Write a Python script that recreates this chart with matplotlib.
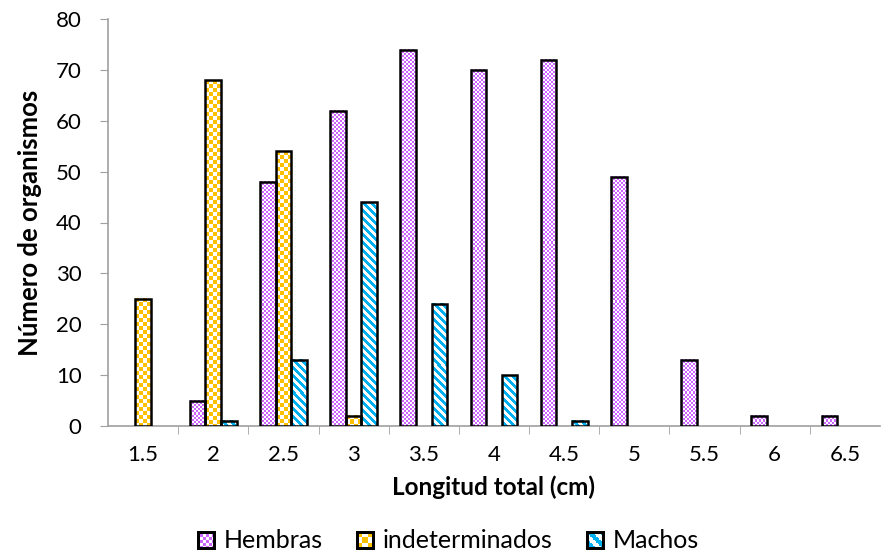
import numpy as np
import matplotlib
matplotlib.use("Agg")
import matplotlib.pyplot as plt
from matplotlib.offsetbox import HPacker, TextArea, AnnotationBbox, OffsetImage

# Length classes (cm) and counts per sex
categories = ["1.5", "2", "2.5", "3", "3.5", "4", "4.5", "5", "5.5", "6", "6.5"]
hembras = [0, 5, 48, 62, 74, 70, 72, 49, 13, 2, 2]
indeterminados = [25, 68, 54, 2, 0, 0, 0, 0, 0, 0, 0]
machos = [0, 1, 13, 44, 24, 10, 1, 0, 0, 0, 0]

series_names = ["Hembras", "indeterminados", "Machos"]
series_vals = [hembras, indeterminados, machos]

PURPLE = np.array([0xCC, 0x66, 0xFF]) / 255
ORANGE = np.array([0xFF, 0xC0, 0x00]) / 255
CYAN = np.array([0x00, 0xB0, 0xF0]) / 255
WHITE = np.array([1.0, 1.0, 1.0])


def pattern(kind, w, h):
    yy, xx = np.mgrid[0:h, 0:w]
    if kind == 0:      # fine checkerboard
        m = ((xx // 2 + yy // 2) % 2) == 0
        col = PURPLE
    elif kind == 1:    # coarse checkerboard
        m = ((xx // 4 + yy // 4) % 2) == 0
        col = ORANGE
    else:              # diagonal stripes
        m = ((xx - yy) % 8) < 4
        col = CYAN
    return np.where(m[..., None], col[None, None, :], WHITE[None, None, :])


plt.rcParams["font.family"] = ["Lato", "DejaVu Sans"]

fig = plt.figure(figsize=(8.87, 5.57), dpi=100)
ax = fig.add_axes([108 / 887, 131 / 557, 772 / 887, 407 / 557])

n = len(categories)
x = np.arange(n)
bw = 1 / 4.5
offsets = [-bw, 0, bw]

ax.set_xlim(-0.5, n - 0.5)
ax.set_ylim(0, 80)

for k, (vals, off) in enumerate(zip(series_vals, offsets)):
    edges = ["black" if v > 0 else "none" for v in vals]
    bars = ax.bar(x + off, vals, width=bw, facecolor="none",
                  edgecolor=edges, linewidth=1.8, zorder=3,
                  label=series_names[k])
    for rect, v in zip(bars, vals):
        if v <= 0:
            continue
        x0, y0 = rect.get_x(), rect.get_y()
        x1, y1 = x0 + rect.get_width(), y0 + rect.get_height()
        p0 = ax.transData.transform((x0, y0))
        p1 = ax.transData.transform((x1, y1))
        wpx = max(1, int(round(p1[0] - p0[0])))
        hpx = max(1, int(round(p1[1] - p0[1])))
        ax.imshow(pattern(k, wpx, hpx), extent=(x0, x1, y0, y1),
                  origin="upper", interpolation="nearest", aspect="auto",
                  zorder=2)

ax.set_xlim(-0.5, n - 0.5)
ax.set_ylim(0, 80)

# Axis styling
for s in ["top", "right"]:
    ax.spines[s].set_visible(False)
for s in ["left", "bottom"]:
    ax.spines[s].set_color("#A0A0A0")
    ax.spines[s].set_linewidth(1.2)
ax.spines["bottom"].set_zorder(1)

ax.set_yticks(np.arange(0, 81, 10))
ax.tick_params(axis="y", direction="out", length=6, color="#A0A0A0",
               labelsize=16, pad=13)
ax.set_xticks(x)
ax.set_xticklabels(categories)
ax.tick_params(axis="x", length=0, labelsize=16, pad=14)
ax.set_xticks(np.arange(0.5, n - 0.5, 1), minor=True)
ax.tick_params(axis="x", which="minor", direction="out", length=6,
               color="#A0A0A0")

ax.set_xlabel("Longitud total (cm)", fontsize=17.5, fontweight="bold",
              labelpad=7)
ax.set_ylabel("Número de organismos", fontsize=18.5, fontweight="bold",
              labelpad=10)

# Legend with patterned swatches
items = []
for k, name in enumerate(series_names):
    img = pattern(k, 13, 13)
    img[0:2, :, :] = 0
    img[-2:, :, :] = 0
    img[:, 0:2, :] = 0
    img[:, -2:, :] = 0
    oi = OffsetImage(img, zoom=1.0, interpolation="nearest")
    ta = TextArea(name, textprops=dict(fontsize=18, color="black"))
    items.append(HPacker(children=[oi, ta], align="center", pad=0, sep=6))
row = HPacker(children=items, align="center", pad=0, sep=24)
ab = AnnotationBbox(row, (448 / 887, 1 - 541 / 557), xycoords="figure fraction",
                    frameon=False, box_alignment=(0.5, 0.5))
fig.add_artist(ab)

fig.savefig("out.png", dpi=100)
